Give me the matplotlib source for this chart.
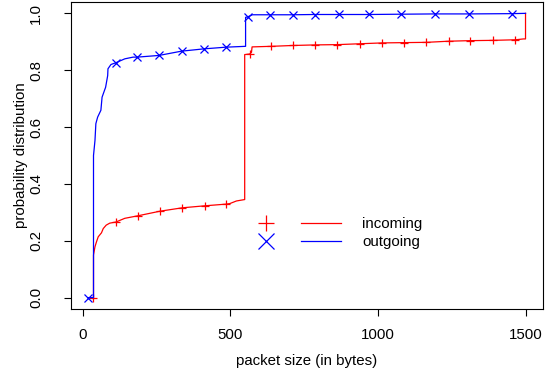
import matplotlib.pyplot as plt
import matplotlib as mpl
from matplotlib.lines import Line2D
from matplotlib.legend_handler import HandlerTuple

# packet size CDF
in_x = [35, 37, 37, 42, 47, 53, 64, 70, 80, 92, 113, 143, 188, 262, 338, 414, 487, 499, 521,
        549, 549, 566, 572, 574, 639, 713, 788, 863, 938, 1014, 1087, 1164, 1240, 1313, 1389,
        1465, 1493, 1500, 1500]
in_y = [0, 0, 0.15, 0.179, 0.196, 0.214, 0.228, 0.243, 0.255, 0.262, 0.266, 0.279, 0.288, 0.304,
        0.316, 0.323, 0.329, 0.331, 0.340, 0.345, 0.855, 0.857, 0.863, 0.882, 0.884, 0.887, 0.889,
        0.890, 0.893, 0.896, 0.897, 0.898, 0.902, 0.904, 0.905, 0.907, 0.910, 0.910, 1.0]
in_mark_x = [35, 113, 188, 262, 338, 414, 487, 566, 639, 713, 788, 863, 938, 1014, 1087, 1164,
             1240, 1313, 1389, 1465]
in_mark_y = [0, 0.266, 0.288, 0.304, 0.316, 0.323, 0.329, 0.857, 0.884, 0.887, 0.889, 0.890,
             0.893, 0.896, 0.897, 0.898, 0.902, 0.904, 0.905, 0.907]

out_x = [18, 37, 37, 42, 45, 51, 62, 66, 78, 85, 86, 96, 112, 143, 171, 185, 259, 335, 410, 485,
         552, 552, 560, 575, 636, 711, 786, 868, 969, 1077, 1192, 1308, 1455, 1500]
out_y = [0, 0, 0.5, 0.553, 0.612, 0.635, 0.659, 0.705, 0.74, 0.781, 0.805, 0.82, 0.826, 0.84,
         0.846, 0.846, 0.852, 0.867, 0.875, 0.881, 0.884, 0.986, 0.988, 0.995, 0.995, 0.995, 0.996,
         0.996, 0.996, 0.997, 0.998, 0.998, 0.999, 1.0]
out_mark_x = [18, 112, 185, 259, 335, 410, 485, 560, 636, 711, 786, 868, 969, 1077, 1192, 1308, 1455]
out_mark_y = [0, 0.826, 0.846, 0.852, 0.867, 0.875, 0.881, 0.986, 0.995, 0.995, 0.995, 0.996,
              0.996, 0.997, 0.998, 0.998, 0.999]

labels = ['incoming', 'outgoing']
colors = ['red', 'blue']
markers = ['+', 'x']

mpl.rcParams['font.family'] = ['Liberation Sans', 'DejaVu Sans']
mpl.rcParams['font.size'] = 10.8

fig = plt.figure(figsize=(5.47, 3.74), dpi=100)
ax = fig.add_axes([0.1298, 0.1738, 0.8629, 0.8209])

ax.plot(in_x, in_y, color=colors[0], lw=0.9)
ax.plot(in_mark_x, in_mark_y, ls='none', marker=markers[0], ms=6, mew=0.9, color=colors[0])
ax.plot(out_x, out_y, color=colors[1], lw=0.9)
ax.plot(out_mark_x, out_mark_y, ls='none', marker=markers[1], ms=5.5, mew=0.9, color=colors[1])

ax.set_xlim(-39.2, 1559.2)
ax.set_ylim(-0.04, 1.04)
ax.set_xticks([0, 500, 1000, 1500])
ax.set_yticks([0.0, 0.2, 0.4, 0.6, 0.8, 1.0])
ax.set_yticklabels(['0.0', '0.2', '0.4', '0.6', '0.8', '1.0'], rotation=90, va='center')
ax.tick_params(length=5, width=0.8)
ax.tick_params(axis='x', pad=8.5)
ax.tick_params(axis='y', pad=15)
for s in ax.spines.values():
    s.set_linewidth(0.8)
ax.set_xlabel('packet size (in bytes)', labelpad=9)
ax.set_ylabel('probability distribution', labelpad=1)

handles = []
for c, m in zip(colors, markers):
    mk = Line2D([], [], ls='none', marker=m, ms=11, mew=0.9, color=c)
    ln = Line2D([], [], color=c, lw=0.9)
    handles.append((mk, ln))
ax.legend(handles, labels, handler_map={tuple: HandlerTuple(ndivide=None, pad=1.0)},
          frameon=False, loc='upper left', bbox_to_anchor=(0.372, 0.30), borderpad=0,
          borderaxespad=0, handlelength=6.3, handletextpad=1.4, labelspacing=0.3)

fig.savefig('out.png', dpi=100)
